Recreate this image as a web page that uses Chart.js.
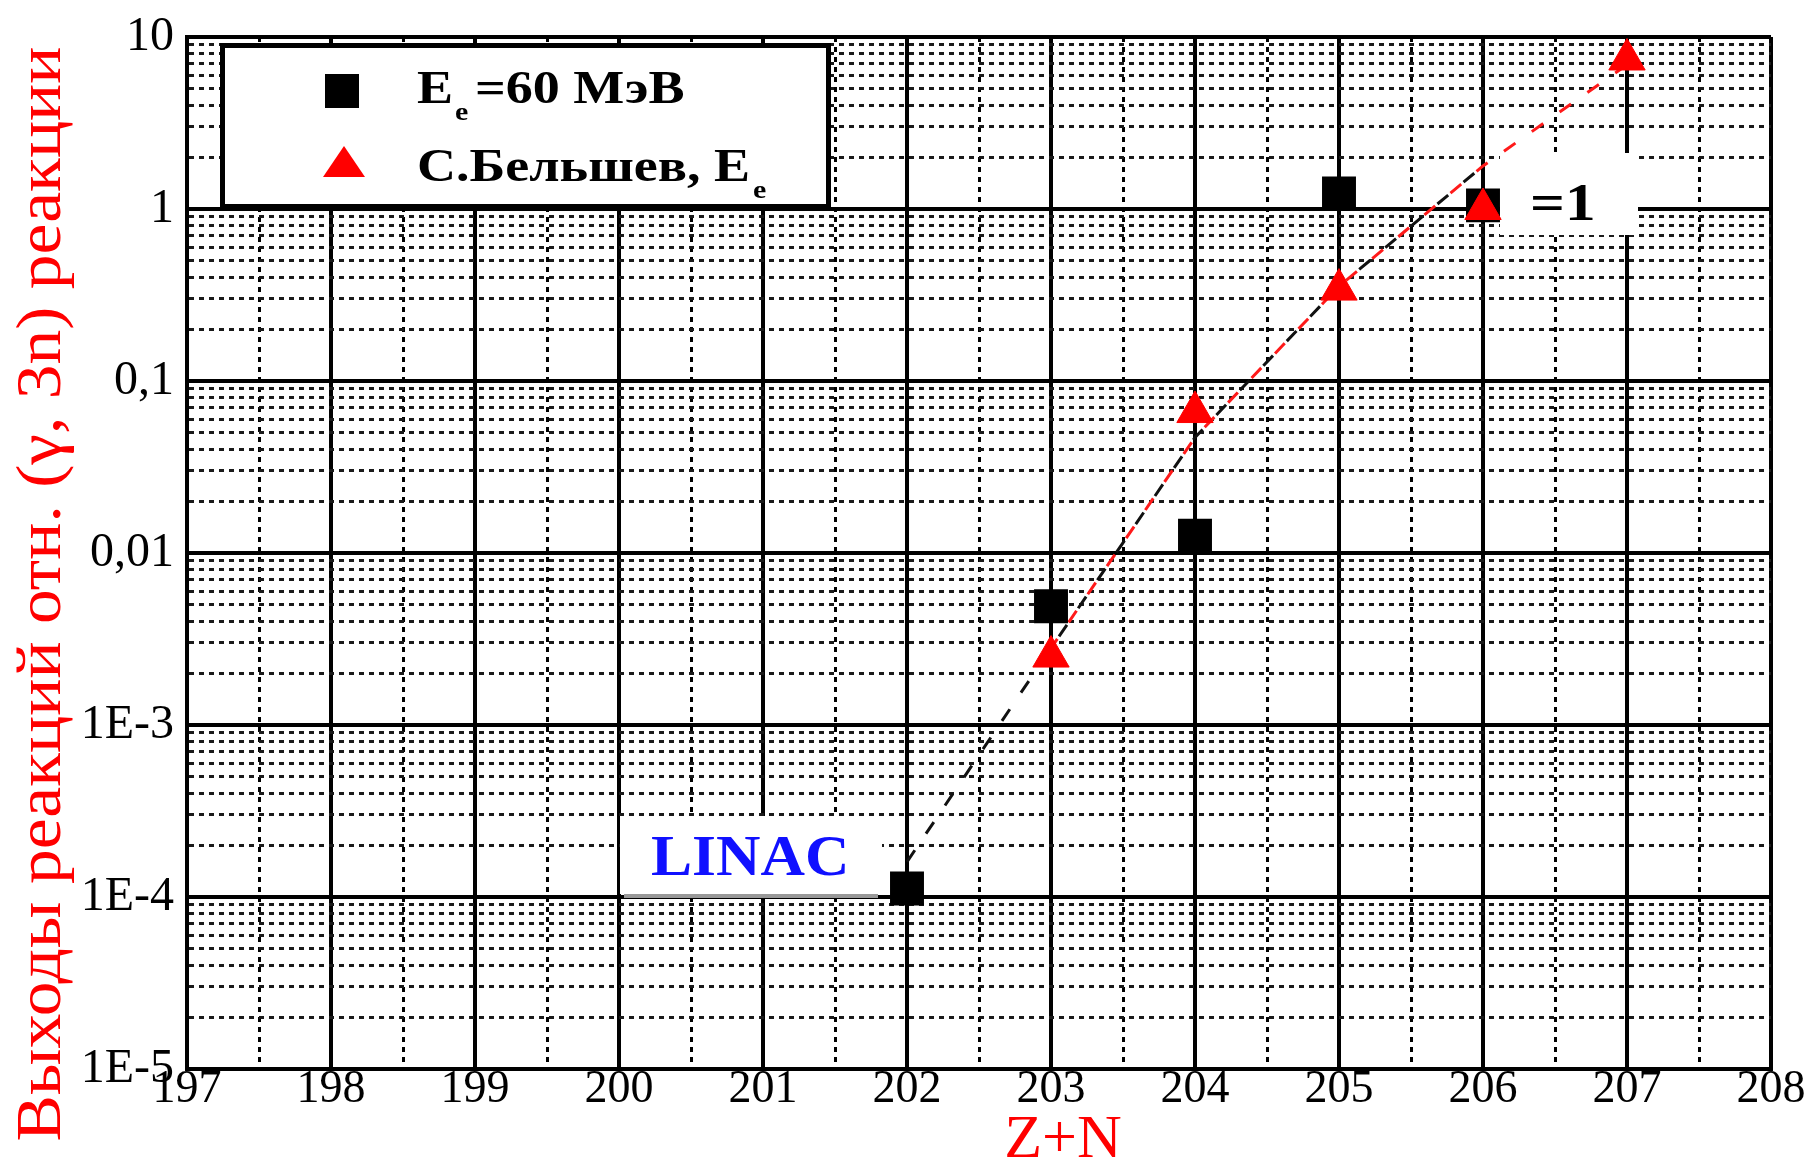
<!DOCTYPE html>
<html>
<head>
<meta charset="utf-8">
<script src="https://cdn.jsdelivr.net/npm/chart.js@4.4.0/dist/chart.umd.min.js"></script>
<style>
  body { margin: 0; background: #fff; }
  canvas { display: block; }
</style>
</head>
<body>
<canvas id="chart" width="1817" height="1163"></canvas>
<script>
// values
const linacX = [202, 203, 204, 205, 206];
const linacYield = [1.12e-4, 4.9e-3, 1.26e-2, 1.23, 1.05];

const belyshevX = [203, 204, 205, 206, 207];
const belyshevYield = [2.5e-3, 6.6e-2, 0.34, 1.0, 7.4];

// dashed guide lines (black one starts at 202, red one runs to 207)
const fitBlackX = [202, 203, 204, 205, 206];
const fitBlackY = [1.6e-4, 2.8e-3, 4.7e-2, 0.355, 1.78];
const fitRedX = [203, 204, 205, 206, 207];
const fitRedY = [2.8e-3, 4.7e-2, 0.355, 1.78, 6.9];

const xLabels = [197, 198, 199, 200, 201, 202, 203, 204, 205, 206, 207, 208];
const decades = [1e-5, 1e-4, 1e-3, 1e-2, 0.1, 1, 10];
const decadeLabels = ['1E-5', '1E-4', '1E-3', '0,01', '0,1', '1', '10'];

const serif = "'Liberation Serif', 'DejaVu Serif', serif";

function toPoints(xs, ys) {
  return xs.map((x, i) => ({ x: x, y: ys[i] }));
}

function isDecade(v) {
  return decades.some(d => Math.abs(v - d) / d < 1e-6);
}

// text stretched sideways, the source image is a bit wide
function wideText(ctx, text, x, y, k) {
  ctx.save();
  ctx.translate(x, y);
  ctx.scale(k, 1);
  ctx.fillText(text, 0, 0);
  const w = ctx.measureText(text).width * k;
  ctx.restore();
  return w;
}

// boxes and texts drawn on top of the grid, under the markers
const overlay = {
  id: 'overlay',
  beforeDatasetsDraw(chart) {
    const ctx = chart.ctx;
    ctx.save();

    // legend
    ctx.fillStyle = '#fff';
    ctx.fillRect(222, 45, 606, 161);
    ctx.lineWidth = 5;
    ctx.strokeStyle = '#000';
    ctx.strokeRect(222.5, 45.5, 606, 161);

    ctx.fillStyle = '#000';
    ctx.fillRect(325, 74, 34, 34);
    ctx.fillStyle = '#ff0000';
    ctx.beginPath();
    ctx.moveTo(344, 146);
    ctx.lineTo(365, 177);
    ctx.lineTo(323, 177);
    ctx.closePath();
    ctx.fill();

    ctx.fillStyle = '#000';
    ctx.textAlign = 'left';
    ctx.textBaseline = 'alphabetic';
    ctx.font = 'bold 47px ' + serif;
    let w = wideText(ctx, 'E', 417, 103, 1.15);
    ctx.font = 'bold 26px ' + serif;
    wideText(ctx, 'e', 417 + w + 2, 120, 1.15);
    ctx.font = 'bold 47px ' + serif;
    wideText(ctx, '=60 МэВ', 475, 103, 1.15);

    w = wideText(ctx, 'С.Бельшев, E', 417, 181, 1.15);
    ctx.font = 'bold 26px ' + serif;
    wideText(ctx, 'e', 417 + w + 3, 198, 1.15);

    // LINAC label
    ctx.fillStyle = '#fff';
    ctx.fillRect(620, 816, 262, 78);
    ctx.fillStyle = '#999';
    ctx.fillRect(624, 894, 254, 4);
    ctx.fillStyle = '#1010ff';
    ctx.font = 'bold 56px ' + serif;
    wideText(ctx, 'LINAC', 651, 875, 1.1);

    // "=1" label
    ctx.fillStyle = '#fff';
    ctx.fillRect(1500, 153, 138, 82);
    ctx.fillStyle = '#000';
    ctx.font = 'bold 52px ' + serif;
    wideText(ctx, '=1', 1530, 220, 1.18);

    // axis titles
    ctx.fillStyle = '#ff0000';
    ctx.font = '62px ' + serif;
    ctx.textAlign = 'center';
    ctx.fillText('Z+N', 1063, 1157);

    const yTitle = 'Выходы реакций отн. (γ, 3n) реакции';
    ctx.font = '64px ' + serif;
    const tw = ctx.measureText(yTitle).width;
    ctx.translate(60, 594);
    ctx.rotate(-Math.PI / 2);
    ctx.scale(1095 / tw, 1);
    ctx.fillText(yTitle, 0, 0);

    ctx.restore();
  }
};

const dashOn = 14, dashOff = 20;

const ctx = document.getElementById('chart').getContext('2d');
new Chart(ctx, {
  type: 'scatter',
  data: {
    datasets: [
      {
        label: 'С.Бельшев',
        data: toPoints(belyshevX, belyshevYield),
        pointStyle: 'triangle',
        pointRadius: 21,
        backgroundColor: '#ff0000',
        borderColor: '#ff0000',
        borderWidth: 1
      },
      {
        label: 'Ee=60 МэВ',
        data: toPoints(linacX, linacYield),
        pointStyle: 'rect',
        pointRadius: 24,
        backgroundColor: '#000',
        borderColor: '#000',
        borderWidth: 0
      },
      {
        label: 'fit red',
        data: toPoints(fitRedX, fitRedY),
        showLine: true,
        pointRadius: 0,
        borderColor: '#ff1a1a',
        borderWidth: 3,
        borderDash: [dashOn, dashOff],
        // shift the red dashes into the gaps of the black line
        borderDashOffset: (c) => {
          const sx = c.chart.scales.x, sy = c.chart.scales.y;
          if (!sx || !sy) return 17;
          const dx = sx.getPixelForValue(fitRedX[0]) - sx.getPixelForValue(fitBlackX[0]);
          const dy = sy.getPixelForValue(fitRedY[0]) - sy.getPixelForValue(fitBlackY[0]);
          return Math.hypot(dx, dy) + 17;
        }
      },
      {
        label: 'fit black',
        data: toPoints(fitBlackX, fitBlackY),
        showLine: true,
        pointRadius: 0,
        borderColor: '#111',
        borderWidth: 3,
        borderDash: [dashOn, dashOff]
      }
    ]
  },
  options: {
    responsive: false,
    animation: false,
    devicePixelRatio: 1,
    layout: { padding: { top: 32, right: 46, left: 0, bottom: 0 } },
    plugins: {
      legend: { display: false },
      tooltip: { enabled: false }
    },
    scales: {
      x: {
        type: 'linear',
        min: 197,
        max: 208,
        afterBuildTicks: (scale) => {
          const t = [];
          xLabels.forEach((v, i) => {
            t.push({ value: v });
            if (i < xLabels.length - 1) t.push({ value: v + 0.5 });
          });
          scale.ticks = t;
        },
        afterFit: (scale) => { scale.height = 94; },
        ticks: {
          autoSkip: false,
          maxRotation: 0,
          padding: -2,
          color: '#000',
          font: { family: serif, size: 46, lineHeight: 1 },
          callback: (v) => Number.isInteger(v) ? String(v) : ''
        },
        grid: {
          drawTicks: false,
          color: '#000',
          lineWidth: (c) => (c.tick && Number.isInteger(c.tick.value)) ? 4 : 3
        },
        border: {
          display: true,
          width: 4,
          color: '#000',
          dash: (c) => (c.tick && !Number.isInteger(c.tick.value)) ? [5, 5] : []
        }
      },
      y: {
        type: 'logarithmic',
        min: 1e-5,
        max: 10,
        afterBuildTicks: (scale) => {
          const t = [];
          decades.forEach((d, i) => {
            if (i === decades.length - 1) { t.push({ value: d }); return; }
            for (let k = 1; k <= 9; k++) t.push({ value: d * k });
          });
          scale.ticks = t;
        },
        afterFit: (scale) => { scale.width = 187; },
        ticks: {
          autoSkip: false,
          padding: 13,
          color: '#000',
          font: { family: serif, size: 48, lineHeight: 1 },
          callback: (v) => {
            const i = decades.findIndex(d => Math.abs(v - d) / d < 1e-6);
            return i >= 0 ? decadeLabels[i] : '';
          }
        },
        grid: {
          drawTicks: false,
          color: (c) => (c.tick && !isDecade(c.tick.value)) ? '#1a1a1a' : '#000',
          lineWidth: (c) => (c.tick && isDecade(c.tick.value)) ? 4 : 3
        },
        border: {
          display: true,
          width: 4,
          color: '#000',
          dash: (c) => (c.tick && !isDecade(c.tick.value)) ? [5, 5] : []
        }
      }
    }
  },
  plugins: [overlay]
});
</script>
</body>
</html>
